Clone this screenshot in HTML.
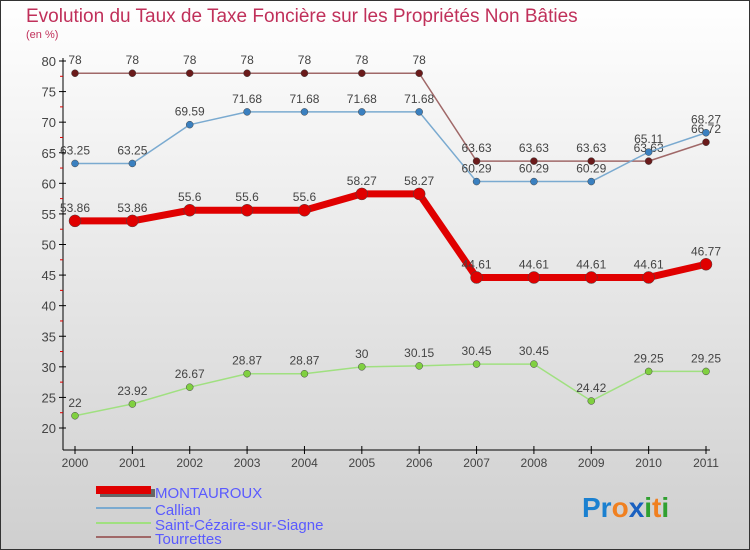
<!DOCTYPE html>
<html><head><meta charset="utf-8"><style>
body{margin:0}
#c{width:750px;height:550px;position:relative;overflow:hidden;font-family:"Liberation Sans",sans-serif}
</style></head><body>
<div id="c">
<svg id="s" width="750" height="550" xmlns="http://www.w3.org/2000/svg">
<defs><linearGradient id="bg" x1="0" y1="0" x2="0" y2="1"><stop offset="0" stop-color="#ffffff"/><stop offset="1" stop-color="#cfcfcf"/></linearGradient></defs>
<rect x="0.5" y="0.5" width="749" height="549" fill="url(#bg)" stroke="#333"/>
<text x="26" y="22" font-size="19" fill="#c0305a">Evolution du Taux de Taxe Foncière sur les Propriétés Non Bâties</text>
<text x="26" y="38" font-size="11" fill="#c0305a">(en %)</text>
<g id="axes"></g><g id="series"></g>
<g>
<rect x="100" y="489" width="55" height="8" fill="#666"/><rect x="96" y="486" width="55" height="8" fill="#e00000"/>
<text x="155" y="498" font-size="15" fill="#5a5aff">MONTAUROUX</text>
<line x1="96" y1="508" x2="151" y2="508" stroke="#7aaad0" stroke-width="2"/>
<text x="155" y="515" font-size="15" fill="#5a5aff">Callian</text>
<line x1="96" y1="523" x2="151" y2="523" stroke="#a0e080" stroke-width="2"/>
<text x="155" y="530" font-size="15" fill="#5a5aff">Saint-Cézaire-sur-Siagne</text>
<line x1="96" y1="537" x2="151" y2="537" stroke="#a06868" stroke-width="2"/>
<text x="155" y="544" font-size="15" fill="#5a5aff">Tourrettes</text>
</g>
<g font-size="28" font-weight="bold">
<text x="582" y="517"><tspan fill="#1a80d0">Pr</tspan><tspan fill="#f08020">o</tspan><tspan fill="#1a60c0">x</tspan><tspan fill="#30a030">i</tspan><tspan fill="#f08020">t</tspan><tspan fill="#30a030">i</tspan></text>
</g>
</svg>
</div>
<script>
const years=[2000,2001,2002,2003,2004,2005,2006,2007,2008,2009,2010,2011];
const yTicks=[20,25,30,35,40,45,50,55,60,65,70,75,80];
const montauroux=[53.86,53.86,55.6,55.6,55.6,58.27,58.27,44.61,44.61,44.61,44.61,46.77];
const callian=[63.25,63.25,69.59,71.68,71.68,71.68,71.68,60.29,60.29,60.29,65.11,68.27];
const stCezaire=[22,23.92,26.67,28.87,28.87,30,30.15,30.45,30.45,24.42,29.25,29.25];
const tourrettes=[78,78,78,78,78,78,78,63.63,63.63,63.63,63.63,66.72];
const NS="http://www.w3.org/2000/svg";
const X=i=>75+i*(706-75)/11;
const Y=v=>428-(v-20)*(367/60);
function mk(t,a,p){const e=document.createElementNS(NS,t);for(const k in a)e.setAttribute(k,a[k]);p.appendChild(e);return e;}
const ax=document.getElementById('axes');
mk('line',{x1:63,y1:58,x2:63,y2:450,stroke:'#000'},ax);
mk('line',{x1:63,y1:450,x2:710,y2:450,stroke:'#000'},ax);
yTicks.forEach(v=>{
 mk('line',{x1:59,y1:Y(v),x2:66,y2:Y(v),stroke:'#000'},ax);
 if(v<80)mk('line',{x1:60,y1:Y(v+2.5),x2:63,y2:Y(v+2.5),stroke:'#e00000'},ax);
 const t=mk('text',{x:56,y:Y(v)+5,'text-anchor':'end','font-size':13,fill:'#444'},ax);t.textContent=v;
 
 
});
years.forEach((y,i)=>{
 mk('line',{x1:X(i),y1:446,x2:X(i),y2:454,stroke:'#000'},ax);
 const t=mk('text',{x:X(i),y:467,'text-anchor':'middle','font-size':12,fill:'#444'},ax);t.textContent=y;
 
 
});
const sg=document.getElementById('series');
function series(vals,name,color,w,r,dot){
 const g=mk('g',{},sg);
 
 
 mk('polyline',{points:vals.map((v,i)=>X(i)+','+Y(v)).join(' '),fill:'none',stroke:color,'stroke-width':w,'stroke-linejoin':'round'},g);
 vals.forEach((v,i)=>{
  const c=mk('circle',{cx:X(i),cy:Y(v),r:r,fill:dot,stroke:'#444','stroke-width':0.5},g);
  
  
  const t=mk('text',{x:X(i),y:Y(v)-9,'text-anchor':'middle','font-size':12,fill:'#444'},g);t.textContent=v;
 });
}
series(tourrettes,'series-tourrettes','#a06868',1.5,3.5,'#6a1a1a');
series(callian,'series-callian','#7aaad0',1.5,3.5,'#3a80c0');
series(stCezaire,'series-saint-cezaire','#a0e080',1.5,3.5,'#80d040');
series(montauroux,'series-montauroux','#e00000',7,6,'#e00000');
</script>
</body></html>
